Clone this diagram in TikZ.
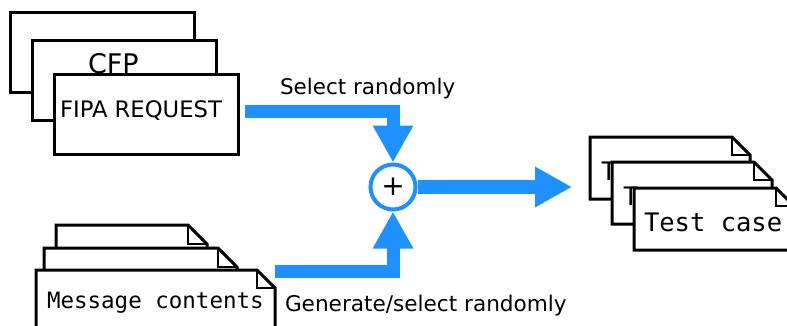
\documentclass[tikz,border=0pt]{standalone}
\usepackage{fontspec}
\setmainfont{DejaVu Sans}
\setmonofont{DejaVu Sans Mono}
\usetikzlibrary{arrows.meta}
\definecolor{flowblue}{HTML}{1E90FF}

% dog-eared note: x, y (top left), width, height, fold size
\newcommand\dognote[5]{%
  \path[draw=black, fill=white, line width=3pt, line join=miter]
    (#1,#2) -- ({#1+#3-#5},#2) -- ({#1+#3},{#2+#5}) -- ({#1+#3},{#2+#4})
    -- (#1,{#2+#4}) -- cycle;
  \draw[black, line width=1.5pt]
    ({#1+#3-#5},#2) -- ({#1+#3-#5},{#2+#5}) -- ({#1+#3},{#2+#5});
}

\tikzset{
  msgbox/.style={draw=black, fill=white, line width=3pt, rectangle,
    minimum width=184pt, minimum height=80pt, inner sep=0pt},
  lbl/.style={anchor=base west, inner sep=0pt, outer sep=0pt},
  flow/.style={draw=flowblue, line width=13pt, line join=miter,
    -{Triangle[width=38pt,length=37pt]}},
  joiner/.style={circle, draw=flowblue, fill=white, line width=4pt,
    minimum size=45pt, inner sep=0pt},
}

\begin{document}
\begin{tikzpicture}[x=1pt, y=-1pt]
  \useasboundingbox (0,0) rectangle (787,325);

  % stack of performatives
  \node[msgbox] (perfA) at (102,52) {};
  \node[msgbox] (perfB) at (124,80) {};
  \node[lbl, font=\fontsize{27pt}{32pt}\selectfont] (cfp) at (88,73) {CFP};
  \node[msgbox] (fr) at (146.5,114) {};
  \node[lbl, font=\fontsize{22.7pt}{27pt}\selectfont] (frText) at (60,117) {FIPA REQUEST};

  % stack of message contents
  \dognote{56}{225}{151}{40}{19}
  \dognote{44}{248}{193}{60}{19}
  \dognote{36}{270}{239}{80}{18}
  \node[lbl, font=\ttfamily\fontsize{22.5pt}{27pt}\selectfont] (mc) at (47,308.5) {Message contents};

  % stack of test cases
  \dognote{590}{137}{160}{62}{18}
  \node[lbl, font=\ttfamily\fontsize{25.5pt}{30pt}\selectfont] (tcA) at (601,180) {T};
  \dognote{612}{162}{160}{62}{18}
  \node[lbl, font=\ttfamily\fontsize{25.5pt}{30pt}\selectfont] (tcB) at (623,205) {T};
  \dognote{634}{188}{160}{62}{18}
  \node[lbl, font=\ttfamily\fontsize{25.5pt}{30pt}\selectfont] (tc) at (644,231) {Test case};

  % combining operator
  \node[joiner, font=\fontsize{28pt}{32pt}\selectfont] (plus) at (393,187) {+};

  % flows
  \coordinate (selStart) at (245,111.5);
  \coordinate (genStart) at (275,271);
  \coordinate (tcTip) at (572,187);
  \draw[flow] (selStart) -| (plus.north);
  \draw[flow] (genStart) -| (plus.south);
  \draw[flow, line width=14pt] (plus.east) -- (tcTip);

  % flow labels
  \node[lbl, font=\fontsize{21.5pt}{25pt}\selectfont] (selLbl) at (280,94) {Select randomly};
  \node[lbl, font=\fontsize{21.6pt}{25pt}\selectfont] (genLbl) at (285,311) {Generate/select randomly};
\end{tikzpicture}
\end{document}
